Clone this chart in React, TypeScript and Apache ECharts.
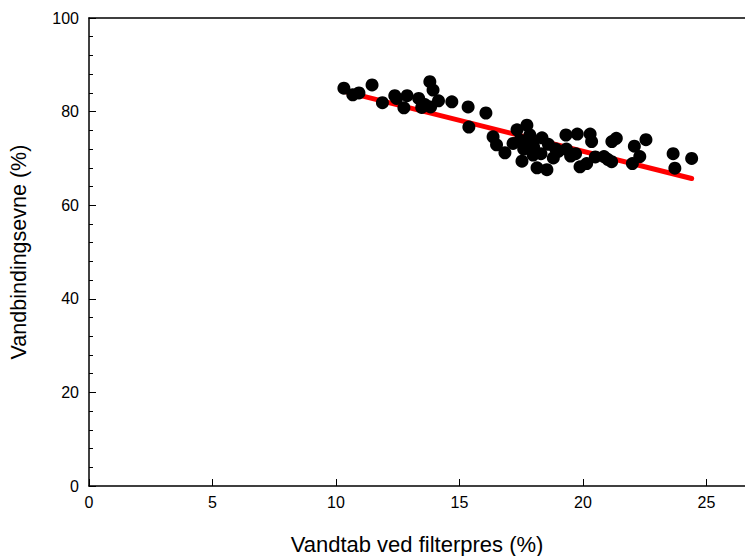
import React, { useEffect, useRef } from "react";
import * as echarts from "echarts";

const xTitle = "Vandtab ved filterpres (%)";
const yTitle = "Vandbindingsevne (%)";

const pointX = [
  10.32, 10.68, 10.93, 11.46, 11.88, 12.38, 12.45, 12.88, 12.75, 13.35, 13.47, 13.8, 13.93, 13.83, 14.15, 13.6,
  14.69, 15.35, 15.38, 16.07,
  16.36, 16.5, 16.84, 17.17, 17.33, 17.45, 17.53, 17.73, 17.6, 17.85, 17.98, 17.9, 18.14, 18.0, 18.34, 18.3,
  18.54, 18.6, 18.8, 18.9, 19.0, 19.31, 19.33, 19.5, 19.7, 19.77, 19.88, 20.15, 20.29, 20.35, 20.5, 20.85,
  21.0, 21.16, 21.17, 21.35, 22.0, 22.08, 22.3, 22.55, 23.65, 23.72, 24.4,
];
const pointY = [
  85.0, 83.6, 84.0, 85.7, 81.9, 83.4, 82.8, 83.4, 80.8, 82.8, 80.9, 86.4, 84.6, 81.0, 82.3, 81.5,
  82.1, 81.0, 76.7, 79.7,
  74.6, 72.9, 71.2, 73.2, 76.1, 73.9, 69.4, 77.1, 72.0, 75.0, 70.7, 73.5, 68.0, 72.5, 74.4, 71.0,
  67.6, 73.0, 70.1, 72.0, 71.5, 75.0, 72.0, 70.5, 71.0, 75.2, 68.2, 68.9, 75.2, 73.6, 70.3, 70.4,
  69.8, 69.3, 73.6, 74.3, 68.9, 72.6, 70.4, 74.0, 71.0, 67.9, 70.0,
];

const lineX = [10.4, 24.4];
const lineY = [84.2, 65.7];

const xTicks = [0, 5, 10, 15, 20, 25];
const xMax = 26.56;
const yMin = 0;
const yMax = 100;

export default function App() {
  const ref = useRef<HTMLDivElement>(null);
  useEffect(() => {
    if (!ref.current) return;
    const chart = echarts.init(ref.current, undefined, { renderer: "svg" });
    const font = "Liberation Sans, Arial, sans-serif";
    chart.setOption({
      animation: false,
      backgroundColor: "#ffffff",
      grid: { left: 89, top: 18, right: 0, bottom: 70, containLabel: false, outerBoundsMode: "none" },
      xAxis: [
        {
          type: "value",
          min: 0,
          max: xMax,
          interval: 5,
          name: xTitle,
          nameLocation: "middle",
          nameGap: 47,
          nameTextStyle: { fontFamily: font, fontSize: 22, color: "#000" },
          axisLine: { show: true, onZero: false, lineStyle: { color: "#000", width: 1.5 } },
          axisTick: { show: true, inside: true, length: 7, lineStyle: { color: "#000", width: 1 } },
          axisLabel: {
            fontFamily: font,
            fontSize: 16,
            color: "#000",
            margin: 8,
            showMaxLabel: false,
            formatter: (v: number) => (xTicks.includes(v) ? String(v) : ""),
          },
          splitLine: { show: false },
        },
        {
          type: "value",
          position: "top",
          min: 0,
          max: xMax,
          axisLine: { show: true, onZero: false, lineStyle: { color: "#000", width: 1.5 } },
          axisTick: { show: false },
          axisLabel: { show: false },
          splitLine: { show: false },
        },
      ],
      yAxis: {
        type: "value",
        min: yMin,
        max: yMax,
        interval: 20,
        name: yTitle,
        nameLocation: "middle",
        nameGap: 59,
        nameTextStyle: { fontFamily: font, fontSize: 21.5, color: "#000" },
        axisLine: { show: true, onZero: false, lineStyle: { color: "#000", width: 1.5 } },
        axisTick: { show: true, inside: true, length: 7, lineStyle: { color: "#000", width: 1 } },
        minorTick: { show: true, splitNumber: 5, length: 4, lineStyle: { color: "#000", width: 1 } },
        axisLabel: { fontFamily: font, fontSize: 16, color: "#000", margin: 10 },
        splitLine: { show: false },
      },
      series: [
        {
          type: "line",
          data: lineX.map((x, i) => [x, lineY[i]]),
          showSymbol: false,
          symbol: "none",
          lineStyle: { color: "#ff0000", width: 5, cap: "round" },
          z: 2,
        },
        {
          type: "scatter",
          data: pointX.map((x, i) => [x, pointY[i]]),
          symbol: "circle",
          symbolSize: 13,
          itemStyle: { color: "#000", opacity: 1 },
          z: 3,
        },
      ],
    });
    return () => chart.dispose();
  }, []);
  return (
    <div
      ref={ref}
      style={{ position: "fixed", left: 0, top: 0, width: 745, height: 556 }}
    />
  );
}
